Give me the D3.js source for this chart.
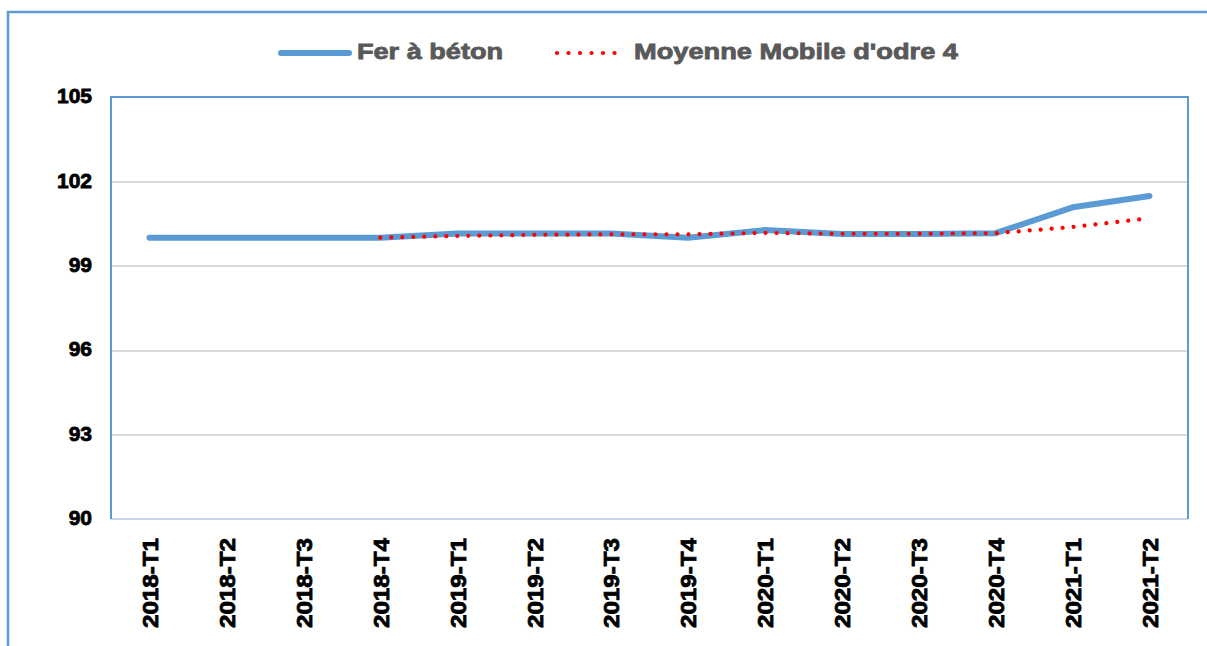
<!DOCTYPE html>
<html>
<head>
<meta charset="utf-8">
<script src="https://cdn.jsdelivr.net/npm/d3@7"></script>
<style>
  body { margin: 0; background: #fff; }
  svg { display: block; font-family: "Liberation Sans", Arial, sans-serif; }
  .axis path, .axis line { display: none; }
  .axis text { font-weight: bold; fill: #000; stroke: #000; stroke-width: 0.8px; }
  .legend text { font-weight: bold; fill: #595959; stroke: #595959; stroke-width: 0.8px; }
  .grid line { stroke: #d9d9d9; stroke-width: 2; shape-rendering: crispEdges; }
  .grid path { display: none; }
</style>
</head>
<body>
<svg id="chart"></svg>
<script>
// data
const categories = ['2018-T1', '2018-T2', '2018-T3', '2018-T4', '2019-T1', '2019-T2', '2019-T3',
  '2019-T4', '2020-T1', '2020-T2', '2020-T3', '2020-T4', '2021-T1', '2021-T2'];
const ferBeton = [100, 100, 100, 100, 100.15, 100.15, 100.15, 100.0, 100.27, 100.13, 100.13, 100.16, 101.08, 101.48];
const moyenneMobile = [null, null, null, 100.0, 100.06, 100.1, 100.12, 100.12, 100.17, 100.14, 100.14, 100.16, 100.38, 100.69];
const yTicks = [90, 93, 96, 99, 102, 105];
const seriesNames = ['Fer à béton', "Moyenne Mobile d'odre 4"];

const W = 1207, H = 646;
const plot = {left: 111, top: 97, right: 1188, bottom: 519};

const svg = d3.select('#chart').attr('width', W).attr('height', H);

// outer frame
svg.append('path')
  .attr('d', `M8,${H} V12 H${W + 2}`)
  .attr('fill', 'none')
  .attr('stroke', '#5b9bd5')
  .attr('stroke-width', 2.5);

const x = d3.scalePoint()
  .domain(categories)
  .range([plot.left, plot.right])
  .padding(0.5);

const y = d3.scaleLinear()
  .domain([90, 105])
  .range([plot.bottom, plot.top]);

// gridlines
svg.append('g')
  .attr('class', 'grid')
  .attr('transform', `translate(${plot.left},0)`)
  .call(d3.axisLeft(y).tickValues(yTicks.slice(1, -1)).tickSize(-(plot.right - plot.left)).tickFormat(''));

// plot border
svg.append('line')
  .attr('x1', plot.left).attr('x2', plot.right)
  .attr('y1', plot.bottom).attr('y2', plot.bottom)
  .attr('stroke', '#c6d5ea').attr('stroke-width', 2);
svg.append('path')
  .attr('d', `M${plot.left},${plot.bottom} V${plot.top} H${plot.right} V${plot.bottom}`)
  .attr('fill', 'none')
  .attr('stroke', '#5b9bd5')
  .attr('stroke-width', 2);

// y axis
svg.append('g')
  .attr('class', 'axis')
  .attr('transform', `translate(${plot.left},0)`)
  .call(d3.axisLeft(y).tickValues(yTicks).tickSize(0).tickPadding(19))
  .selectAll('text')
    .attr('dy', '0.27em')
    .style('font-size', '21px');

// x axis
svg.append('g')
  .attr('class', 'axis')
  .attr('transform', `translate(0,${plot.bottom})`)
  .call(d3.axisBottom(x).tickSize(0))
  .selectAll('text')
    .attr('transform', 'rotate(-90)')
    .attr('x', -19)
    .attr('y', 0)
    .attr('dy', '0.36em')
    .style('text-anchor', 'end')
    .style('font-size', '22px')
    .attr('textLength', 90)
    .attr('lengthAdjust', 'spacingAndGlyphs');

// lines
const line = d3.line()
  .defined(d => d.v != null)
  .x(d => x(d.c))
  .y(d => y(d.v));

svg.append('path')
  .datum(categories.map((c, i) => ({c, v: ferBeton[i]})))
  .attr('d', line)
  .attr('fill', 'none')
  .attr('stroke', '#5b9bd5')
  .attr('stroke-width', 6)
  .attr('stroke-linecap', 'round')
  .attr('stroke-linejoin', 'round');

svg.append('path')
  .datum(categories.map((c, i) => ({c, v: moyenneMobile[i]})))
  .attr('d', line)
  .attr('fill', 'none')
  .attr('stroke', '#ff0000')
  .attr('stroke-width', 4.2)
  .attr('stroke-linecap', 'round')
  .attr('stroke-dasharray', '0.01 11');

// legend
const legend = svg.append('g').attr('class', 'legend');
legend.append('line')
  .attr('x1', 281).attr('x2', 349).attr('y1', 53).attr('y2', 53)
  .attr('stroke', '#5b9bd5').attr('stroke-width', 6).attr('stroke-linecap', 'round');
legend.append('text')
  .attr('x', 357).attr('y', 59)
  .attr('textLength', 146).attr('lengthAdjust', 'spacingAndGlyphs')
  .style('font-size', '22px')
  .text(seriesNames[0]);
legend.append('line')
  .attr('x1', 557).attr('x2', 626).attr('y1', 53).attr('y2', 53)
  .attr('stroke', '#ff0000').attr('stroke-width', 4.2)
  .attr('stroke-linecap', 'round').attr('stroke-dasharray', '0.01 11.5');
legend.append('text')
  .attr('x', 634).attr('y', 59)
  .attr('textLength', 324).attr('lengthAdjust', 'spacingAndGlyphs')
  .style('font-size', '22px')
  .text(seriesNames[1]);
</script>
</body>
</html>
